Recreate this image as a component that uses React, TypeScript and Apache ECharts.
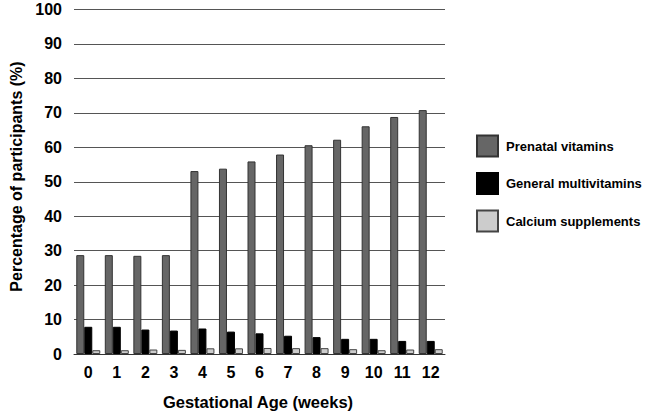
import React, { useEffect, useRef } from "react";
import * as echarts from "echarts";

const weeks = ["0", "1", "2", "3", "4", "5", "6", "7", "8", "9", "10", "11", "12"];
const prenatalVitamins = [28.7, 28.7, 28.5, 28.7, 53.1, 53.8, 55.9, 57.9, 60.6, 62.2, 66.1, 68.8, 70.8];
const generalMultivitamins = [7.9, 7.9, 7.1, 6.8, 7.4, 6.5, 6.0, 5.3, 4.9, 4.4, 4.4, 3.8, 3.8];
const calciumSupplements = [1.1, 1.1, 1.3, 1.2, 1.65, 1.65, 1.75, 1.7, 1.7, 1.4, 1.1, 1.3, 1.4];
const yTicks = { min: 0, max: 100, interval: 10 };

const FONT = "'Liberation Sans', Arial, sans-serif";

export default function App() {
  const ref = useRef<HTMLDivElement>(null);
  useEffect(() => {
    if (!ref.current) return;
    const chart = echarts.init(ref.current, undefined, { renderer: "svg" });
    const barCommon = { type: "bar", barWidth: 8, barGap: "0%" };
    chart.setOption({
      animation: false,
      backgroundColor: "#ffffff",
      textStyle: { fontFamily: FONT },
      grid: { left: 74, right: 201, top: 9.5, bottom: 61, containLabel: false },
      legend: {
        orient: "vertical",
        left: 476,
        top: 134.5,
        padding: 0,
        itemWidth: 21,
        itemHeight: 21,
        itemGap: 14.5,
        icon: "rect",
        textStyle: {
          fontFamily: FONT,
          fontSize: 13,
          fontWeight: "bold",
          color: "#000",
          padding: [0, 0, 0, 3],
        },
        data: ["Prenatal vitamins", "General multivitamins", "Calcium supplements"],
      },
      xAxis: {
        type: "category",
        data: weeks,
        axisLine: { show: true, lineStyle: { color: "#333", width: 1 } },
        axisTick: { show: false },
        axisLabel: { fontFamily: FONT, fontSize: 16, fontWeight: "bold", color: "#000", margin: 10 },
      },
      yAxis: {
        type: "value",
        min: yTicks.min,
        max: yTicks.max,
        interval: yTicks.interval,
        axisLine: { show: false },
        axisTick: { show: false },
        splitLine: { show: true, lineStyle: { color: "#555", width: 1 } },
        axisLabel: { fontFamily: FONT, fontSize: 16, fontWeight: "bold", color: "#000", margin: 12 },
      },
      graphic: [
        {
          type: "text",
          x: 16,
          y: 176.5,
          rotation: Math.PI / 2,
          style: {
            text: "Percentage of participants (%)",
            font: `bold 16px ${FONT}`,
            fill: "#000",
            textAlign: "center",
            textVerticalAlign: "middle",
          },
        },
        {
          type: "text",
          x: 258,
          y: 401.5,
          style: {
            text: "Gestational Age (weeks)",
            font: `bold 16.5px ${FONT}`,
            fill: "#000",
            textAlign: "center",
            textVerticalAlign: "middle",
          },
        },
      ],
      series: [
        {
          ...barCommon,
          name: "Prenatal vitamins",
          data: prenatalVitamins,
          itemStyle: { color: "#666666", borderColor: "#333", borderWidth: 1 },
        },
        {
          ...barCommon,
          name: "General multivitamins",
          data: generalMultivitamins,
          itemStyle: { color: "#000000", borderColor: "#000", borderWidth: 1 },
        },
        {
          ...barCommon,
          name: "Calcium supplements",
          data: calciumSupplements,
          itemStyle: { color: "#cccccc", borderColor: "#444", borderWidth: 1 },
        },
      ],
    });
    return () => chart.dispose();
  }, []);
  return <div ref={ref} style={{ position: "fixed", left: 0, top: 0, width: 646, height: 415 }} />;
}
